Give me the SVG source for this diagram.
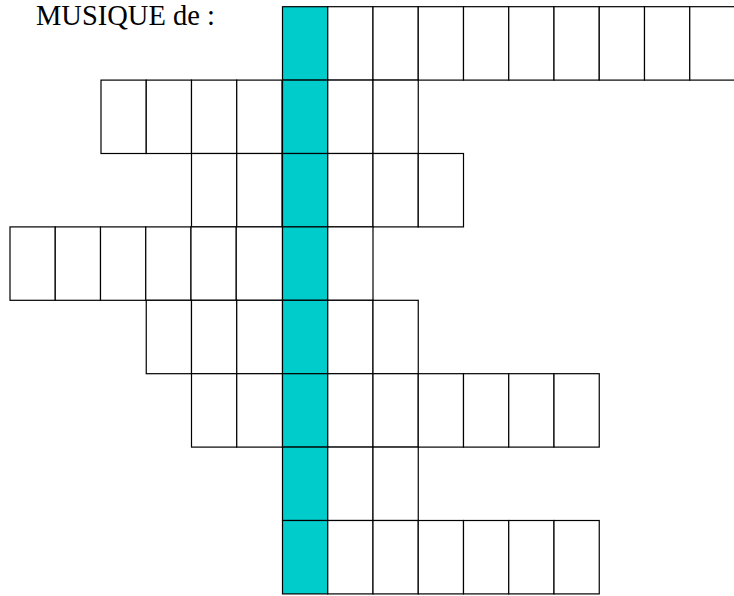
<svg xmlns="http://www.w3.org/2000/svg" width="734" height="596" viewBox="0 0 734 596">
<style>
.c{fill:#ffffff;stroke:#000000;stroke-width:1.2}
.t{fill:#00cccc;stroke:#000000;stroke-width:1.2}
.lbl{font-family:"Liberation Serif","Times New Roman",serif;font-size:28.5px;fill:#000}
</style>
<rect width="734" height="596" fill="#ffffff"/>
<text class="lbl" x="36" y="25">MUSIQUE de :</text>
<g id="row1">
<rect class="t" x="282.5" y="6.7" width="45.25" height="73.4"/>
<rect class="c" x="327.75" y="6.7" width="45.25" height="73.4"/>
<rect class="c" x="373" y="6.7" width="45.25" height="73.4"/>
<rect class="c" x="418.25" y="6.7" width="45.25" height="73.4"/>
<rect class="c" x="463.5" y="6.7" width="45.25" height="73.4"/>
<rect class="c" x="508.75" y="6.7" width="45.25" height="73.4"/>
<rect class="c" x="554" y="6.7" width="45.25" height="73.4"/>
<rect class="c" x="599.25" y="6.7" width="45.25" height="73.4"/>
<rect class="c" x="644.5" y="6.7" width="45.25" height="73.4"/>
<rect class="c" x="689.75" y="6.7" width="45.25" height="73.4"/>
</g>
<g id="row2">
<rect class="c" x="101" y="80.1" width="45.25" height="73.4"/>
<rect class="c" x="146.25" y="80.1" width="45.25" height="73.4"/>
<rect class="c" x="191.5" y="80.1" width="45.25" height="73.4"/>
<rect class="c" x="236.75" y="80.1" width="45.25" height="73.4"/>
<rect class="t" x="282.5" y="80.1" width="45.25" height="73.4"/>
<rect class="c" x="327.75" y="80.1" width="45.25" height="73.4"/>
<rect class="c" x="373" y="80.1" width="45.25" height="73.4"/>
</g>
<g id="row3">
<rect class="c" x="191.5" y="153.5" width="45.25" height="73.4"/>
<rect class="c" x="236.75" y="153.5" width="45.25" height="73.4"/>
<rect class="t" x="282.5" y="153.5" width="45.25" height="73.4"/>
<rect class="c" x="327.75" y="153.5" width="45.25" height="73.4"/>
<rect class="c" x="373" y="153.5" width="45.25" height="73.4"/>
<rect class="c" x="418.25" y="153.5" width="45.25" height="73.4"/>
</g>
<g id="row4">
<rect class="c" x="10" y="226.9" width="45.25" height="73.4"/>
<rect class="c" x="55.25" y="226.9" width="45.25" height="73.4"/>
<rect class="c" x="100.5" y="226.9" width="45.25" height="73.4"/>
<rect class="c" x="145.75" y="226.9" width="45.25" height="73.4"/>
<rect class="c" x="191" y="226.9" width="45.25" height="73.4"/>
<rect class="c" x="236.25" y="226.9" width="46.25" height="73.4"/>
<rect class="t" x="282.5" y="226.9" width="45.25" height="73.4"/>
<rect class="c" x="327.75" y="226.9" width="45.25" height="73.4"/>
</g>
<g id="row5">
<rect class="c" x="146.25" y="300.3" width="45.25" height="73.4"/>
<rect class="c" x="191.5" y="300.3" width="45.25" height="73.4"/>
<rect class="c" x="236.75" y="300.3" width="45.75" height="73.4"/>
<rect class="t" x="282.5" y="300.3" width="45.25" height="73.4"/>
<rect class="c" x="327.75" y="300.3" width="45.25" height="73.4"/>
<rect class="c" x="373" y="300.3" width="45.25" height="73.4"/>
</g>
<g id="row6">
<rect class="c" x="191.5" y="373.7" width="45.25" height="73.4"/>
<rect class="c" x="236.75" y="373.7" width="45.75" height="73.4"/>
<rect class="t" x="282.5" y="373.7" width="45.25" height="73.4"/>
<rect class="c" x="327.75" y="373.7" width="45.25" height="73.4"/>
<rect class="c" x="373" y="373.7" width="45.25" height="73.4"/>
<rect class="c" x="418.25" y="373.7" width="45.25" height="73.4"/>
<rect class="c" x="463.5" y="373.7" width="45.25" height="73.4"/>
<rect class="c" x="508.75" y="373.7" width="45.25" height="73.4"/>
<rect class="c" x="554" y="373.7" width="45.25" height="73.4"/>
</g>
<g id="row7">
<rect class="t" x="282.5" y="447.1" width="45.25" height="73.4"/>
<rect class="c" x="327.75" y="447.1" width="45.25" height="73.4"/>
<rect class="c" x="373" y="447.1" width="45.25" height="73.4"/>
</g>
<g id="row8">
<rect class="t" x="282.5" y="520.5" width="45.25" height="73.4"/>
<rect class="c" x="327.75" y="520.5" width="45.25" height="73.4"/>
<rect class="c" x="373" y="520.5" width="45.25" height="73.4"/>
<rect class="c" x="418.25" y="520.5" width="45.25" height="73.4"/>
<rect class="c" x="463.5" y="520.5" width="45.25" height="73.4"/>
<rect class="c" x="508.75" y="520.5" width="45.25" height="73.4"/>
<rect class="c" x="554" y="520.5" width="45.25" height="73.4"/>
</g>
<g id="connectors"></g>
</svg>
